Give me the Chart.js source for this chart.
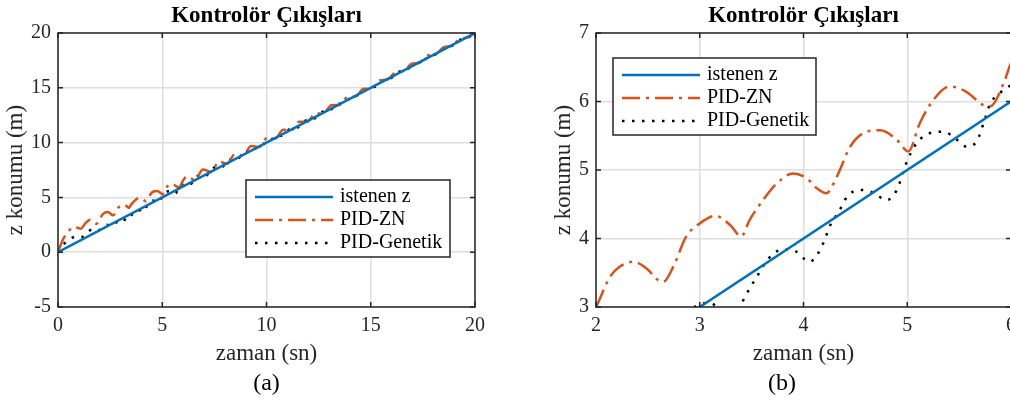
<!DOCTYPE html>
<html>
<head>
<meta charset="utf-8">
<script src="https://cdn.jsdelivr.net/npm/chart.js@4.4.4/dist/chart.umd.min.js"></script>
<style>
  html, body { margin: 0; padding: 0; background: #fff; width: 1010px; height: 402px; overflow: hidden; }
  .panel { position: absolute; top: 0; height: 402px; }
  #panel-a { left: 0; width: 505px; }
  #panel-b { left: 505px; width: 520px; }
</style>
</head>
<body>
<div class="panel" id="panel-a"><canvas id="chart-a"></canvas></div>
<div class="panel" id="panel-b"><canvas id="chart-b"></canvas></div>
<script>
// ─── Data ────────────────────────────────────────────────────────────────────
const seriesLabels = ['istenen z', 'PID-ZN', 'PID-Genetik'];

// desired trajectory z = t
const istenenT = [0, 20];
const istenenZ = [0, 20];

// PID-ZN response
const znT = [0, 0.2, 0.45, 0.8, 1.1, 1.3, 1.55, 1.85, 2.0, 2.135,
  2.23, 2.36, 2.49, 2.6, 2.65, 2.745, 2.87, 3.0, 3.15, 3.29,
  3.40, 3.48, 3.61, 3.74, 3.9, 4.03, 4.13, 4.22, 4.32, 4.45,
  4.58, 4.74, 4.9, 5.01, 5.12, 5.25, 5.41, 5.57, 5.73, 5.8,
  5.93, 6.0, 6.2, 6.57, 6.95, 7.34, 7.72, 8.11, 8.49, 8.88,
  9.26, 9.65, 10.03, 10.42, 10.8, 11.19, 11.57, 11.96, 12.34, 12.73,
  13.11, 13.5, 13.88, 14.27, 14.65, 15.04, 15.42, 15.81, 16.19, 16.58,
  16.96, 17.35, 17.73, 18.12, 18.5, 18.89, 19.27, 19.66, 20];
const znZ = [0, 1.0, 1.8, 2.3, 2.15, 2.6, 2.95, 2.6, 3.0, 3.44,
  3.59, 3.66, 3.56, 3.39, 3.37, 3.59, 4.03, 4.22, 4.33, 4.2,
  4.03, 4.27, 4.56, 4.8, 4.95, 4.88, 4.73, 4.66, 4.9, 5.34,
  5.54, 5.58, 5.44, 5.27, 5.68, 6.02, 6.22, 6.14, 5.95, 5.93,
  6.27, 6.56, 6.92, 6.59, 7.55, 7.32, 8.26, 8.07, 8.97, 8.83,
  9.7, 9.59, 10.43, 10.36, 11.17, 11.13, 11.91, 11.9, 12.66, 12.67,
  13.41, 13.44, 14.16, 14.21, 14.91, 14.98, 15.67, 15.75, 16.43, 16.52,
  17.19, 17.29, 17.95, 18.06, 18.71, 18.83, 19.47, 19.6, 20.05];

// PID-Genetik response
const genT = [0, 0.2, 0.45, 0.9, 1.12, 1.62, 1.85, 2.35, 2.58, 2.95,
  3.1, 3.16, 3.29, 3.42, 3.48, 3.55, 3.63, 3.71, 3.81, 3.93,
  4.0, 4.06, 4.13, 4.19, 4.26, 4.34, 4.42, 4.54, 4.67, 4.8,
  4.9, 4.99, 5.09, 5.22, 5.35, 5.48, 5.57, 5.67, 5.75, 5.8,
  5.89, 6.0, 6.08, 6.3, 6.78, 7.03, 7.52, 7.77, 8.26, 8.51,
  9.0, 9.25, 9.74, 9.99, 10.48, 10.73, 11.22, 11.47, 11.96, 12.21,
  12.7, 12.95, 13.44, 13.69, 14.18, 14.43, 14.92, 15.17, 15.66, 15.91,
  16.4, 16.65, 17.14, 17.39, 17.88, 18.13, 18.62, 18.87, 19.36, 19.61, 20];
const genZ = [0, 0.6, 1.0, 1.45, 1.38, 2.05, 1.92, 2.5, 2.38, 3.0,
  3.06, 3.01, 2.88, 3.1, 3.27, 3.44, 3.64, 3.78, 3.84, 3.81,
  3.71, 3.66, 3.76, 3.93, 4.2, 4.39, 4.61, 4.71, 4.67, 4.56,
  4.71, 5.1, 5.39, 5.54, 5.56, 5.44, 5.34, 5.42, 5.75, 5.97,
  6.12, 6.24, 6.3, 6.18, 7.02, 6.91, 7.73, 7.65, 8.45, 8.39,
  9.17, 9.14, 9.89, 9.88, 10.62, 10.63, 11.35, 11.37, 12.08, 12.11,
  12.82, 12.85, 13.55, 13.6, 14.29, 14.34, 15.02, 15.08, 15.76, 15.83,
  16.5, 16.57, 17.23, 17.31, 17.97, 18.05, 18.71, 18.8, 19.45, 19.54, 20.0];

const chartTitle = 'Kontrolör Çıkışları';
const xAxisTitle = 'zaman (sn)';
const yAxisTitle = 'z konumu (m)';

// ─── Styling ─────────────────────────────────────────────────────────────────
const SERIF = "'Liberation Serif', 'Times New Roman', serif";
const AXIS_COLOR = '#262626';
const GRID_COLOR = '#dedede';

Chart.defaults.font.family = SERIF;
Chart.defaults.animation = false;

const toPoints = (ts, zs) => ts.map((t, i) => ({ x: t, y: zs[i] }));

// Box + inward tick marks, MATLAB style
const axesFrame = {
  id: 'axesFrame',
  afterDatasetsDraw(chart) {
    const { ctx, chartArea: a, scales: { x, y } } = chart;
    ctx.save();
    ctx.strokeStyle = AXIS_COLOR;
    ctx.lineWidth = 1.5;
    ctx.beginPath();
    x.ticks.forEach(t => {
      const px = x.getPixelForValue(t.value);
      ctx.moveTo(px, a.bottom); ctx.lineTo(px, a.bottom - 5);
      ctx.moveTo(px, a.top);    ctx.lineTo(px, a.top + 5);
    });
    y.ticks.forEach(t => {
      const py = y.getPixelForValue(t.value);
      ctx.moveTo(a.left, py);  ctx.lineTo(a.left + 5, py);
      ctx.moveTo(a.right, py); ctx.lineTo(a.right - 5, py);
    });
    ctx.stroke();
    ctx.strokeRect(a.left, a.top, a.right - a.left, a.bottom - a.top);
    ctx.restore();
  }
};

// Framed legend drawn on top of the lines
const boxLegend = {
  id: 'boxLegend',
  afterDraw(chart, args, opts) {
    const { ctx } = chart;
    const { x, y, w, h } = opts;
    ctx.save();
    ctx.fillStyle = '#fff';
    ctx.fillRect(x, y, w, h);
    ctx.lineWidth = 1.5;
    ctx.strokeStyle = AXIS_COLOR;
    ctx.strokeRect(x, y, w, h);
    ctx.font = `20px ${SERIF}`;
    ctx.textBaseline = 'middle';
    ctx.textAlign = 'left';
    chart.data.datasets.forEach((ds, i) => {
      const ly = y + 17 + i * 23;
      ctx.beginPath();
      ctx.setLineDash(ds.borderDash || []);
      ctx.lineWidth = ds.borderWidth;
      ctx.strokeStyle = ds.borderColor;
      ctx.moveTo(x + 9, ly);
      ctx.lineTo(x + 87, ly);
      ctx.stroke();
      ctx.setLineDash([]);
      ctx.fillStyle = '#000';
      ctx.fillText(ds.label, x + 94, ly);
    });
    ctx.restore();
  }
};

function makeChart(id, cfg) {
  const base = { pointRadius: 0, fill: false, cubicInterpolationMode: 'monotone' };
  return new Chart(document.getElementById(id), {
    type: 'line',
    data: {
      datasets: [
        { ...base, label: seriesLabels[0], data: toPoints(istenenT, istenenZ),
          borderColor: '#0072BD', borderWidth: 2.5 },
        { ...base, label: seriesLabels[1], data: toPoints(znT, znZ),
          borderColor: '#D95319', borderWidth: 2.5, borderDash: [18, 6, 3, 6] },
        { ...base, label: seriesLabels[2], data: toPoints(genT, genZ),
          borderColor: '#000000', borderWidth: 2.5, borderDash: [2.5, 7.5] },
      ],
    },
    options: {
      responsive: true,
      maintainAspectRatio: false,
      devicePixelRatio: 1,
      layout: { padding: { left: cfg.padLeft, right: cfg.padRight, top: 0, bottom: 3.6 } },
      scales: {
        x: {
          type: 'linear', min: cfg.xMin, max: cfg.xMax,
          ticks: { stepSize: cfg.xStep, padding: 7, color: AXIS_COLOR, font: { size: 20 } },
          grid: { color: GRID_COLOR, lineWidth: 1.5, drawTicks: false },
          border: { display: false },
          title: { display: true, text: xAxisTitle, color: AXIS_COLOR,
                   font: { size: 23 }, padding: { top: 0, bottom: 1.8 } },
          afterFit: s => { s.height = 62.6; },
        },
        y: {
          type: 'linear', min: cfg.yMin, max: cfg.yMax,
          ticks: { stepSize: cfg.yStep, padding: 7, color: AXIS_COLOR, font: { size: 20 } },
          grid: { color: GRID_COLOR, lineWidth: 1.5, drawTicks: false },
          border: { display: false },
          title: { display: true, text: yAxisTitle, color: AXIS_COLOR,
                   font: { size: 23 }, padding: { top: cfg.yTitlePad, bottom: 0 } },
          afterFit: s => { s.width = cfg.yAxisWidth; },
        },
      },
      plugins: {
        legend: { display: false },
        tooltip: { enabled: false },
        title: {
          display: true, text: chartTitle, color: '#000', fullSize: false,
          font: { size: 23, weight: 'bold' }, padding: { top: 2, bottom: 3.4 },
        },
        subtitle: {
          display: true, text: cfg.caption, position: 'bottom', color: '#000',
          fullSize: cfg.captionFull, font: { size: 24 }, padding: { top: 0, bottom: 0 },
        },
        boxLegend: cfg.legend,
      },
    },
    plugins: [axesFrame, boxLegend],
  });
}

makeChart('chart-a', {
  xMin: 0, xMax: 20, xStep: 5, yMin: -5, yMax: 20, yStep: 5,
  padLeft: 0, padRight: 30, yAxisWidth: 58, yTitlePad: 2.2,
  caption: '(a)', captionFull: false,
  legend: { x: 246, y: 180, w: 204, h: 77 },
});

makeChart('chart-b', {
  xMin: 2, xMax: 6, xStep: 1, yMin: 3, yMax: 7, yStep: 1,
  padLeft: 48, padRight: 14, yAxisWidth: 43, yTitlePad: -2.8,
  caption: '(b)', captionFull: true,
  legend: { x: 108, y: 58, w: 203, h: 77 },
});
</script>
</body>
</html>
